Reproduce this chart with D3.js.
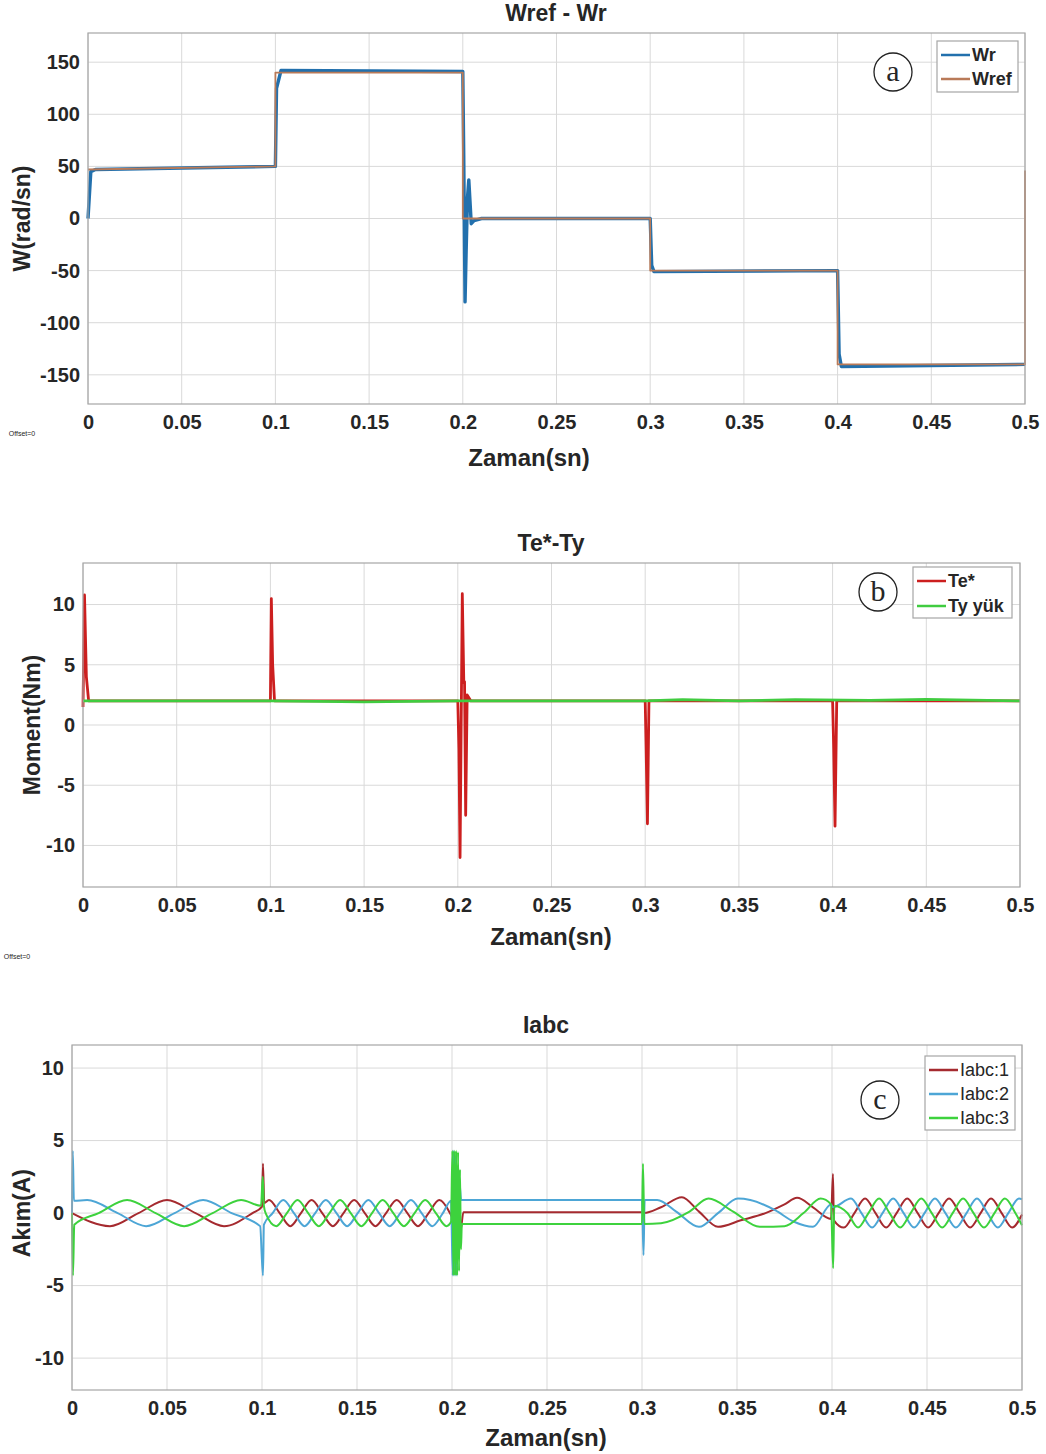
<!DOCTYPE html>
<meta charset="utf-8">
<style>
body { margin: 0; background: #fff; }
text { font-family: "Liberation Sans", Arial, sans-serif; fill: #262626; }
.grid line { stroke: #d9d9d9; stroke-width: 1; }
.frame { fill: none; stroke: #a6a6a6; stroke-width: 1.2; }
</style>
<body>
<script src="https://d3js.org/d3.v7.min.js"></script>
<script>
// shared x ticks (time, s)
const xTicks = [0, 0.05, 0.1, 0.15, 0.2, 0.25, 0.3, 0.35, 0.4, 0.45, 0.5];

// (a) speed, rad/s
const wTicks = [-150, -100, -50, 0, 50, 100, 150];
const wrT = [0, 0.0015, 0.004, 0.1, 0.1006, 0.103, 0.2, 0.2005, 0.2012, 0.2018, 0.2025, 0.2032, 0.2045, 0.206, 0.21, 0.3, 0.3008, 0.302, 0.4, 0.4008, 0.402, 0.5];
const wrV = [0, 45, 47, 50, 125, 142, 141, 60, -80, -30, 20, 37, -5, -2, 0, 0, -45, -51, -50, -130, -142, -140];
const wrefT = [0, 0.1, 0.1, 0.2, 0.2, 0.3, 0.3, 0.4, 0.4, 0.5, 0.5];
const wrefV = [47, 50, 140, 140, 0, 0, -50, -50, -140, -140, 46];

// (b) torque, Nm
const mTicks = [-10, -5, 0, 5, 10];
const teT = [0, 0.0008, 0.0018, 0.003, 0.1, 0.1005, 0.1012, 0.1022, 0.2, 0.2006, 0.2012, 0.2018, 0.2024, 0.2032, 0.2036, 0.2042, 0.205, 0.207, 0.3, 0.3005, 0.3012, 0.302, 0.4, 0.4006, 0.4013, 0.4022, 0.5];
const teV = [1.5, 10.8, 4, 2, 2, 10.5, 5, 2, 2, -2, -11, 0, 10.9, 3.5, 3.6, -7.5, 2.5, 2, 2, -2, -8.2, 2, 2, -2, -8.4, 2, 2];
const tyT = [0, 0.05, 0.1, 0.15, 0.2, 0.25, 0.3, 0.32, 0.35, 0.38, 0.42, 0.45, 0.5];
const tyV = [2, 2, 2, 1.92, 2, 2, 2, 2.1, 2, 2.1, 2.05, 2.12, 2];

// (c) phase currents, A
const aTicks = [-10, -5, 0, 5, 10];
const ia1T = [0, 0.02, 0.035, 0.05, 0.065, 0.08, 0.095, 0.1, 0.1005, 0.1012, 0.1037, 0.1093, 0.1149, 0.1205, 0.1261, 0.1317, 0.1373, 0.1429, 0.1485, 0.1541, 0.1597, 0.1653, 0.1709, 0.1765, 0.1821, 0.1877, 0.1933, 0.1989, 0.2, 0.2015, 0.203, 0.2045, 0.206, 0.3, 0.301, 0.31, 0.321, 0.33, 0.34, 0.352, 0.365, 0.375, 0.3816, 0.39, 0.3995, 0.4005, 0.401, 0.4063, 0.4118, 0.4174, 0.4229, 0.4285, 0.434, 0.4396, 0.4451, 0.4506, 0.4561, 0.4616, 0.4672, 0.4727, 0.4782, 0.4837, 0.4893, 0.4948, 0.5];
const ia1V = [0, -0.9, 0, 0.9, 0, -0.9, 0, 0.45, 3.4, 0.7, 0.9, 0, -0.9, 0, 0.9, 0, -0.9, 0, 0.9, 0, -0.9, 0, 0.9, 0, -0.9, 0, 0.9, 0, -0.3, -1.5, -0.8, -1.2, 0.05, 0.05, 0, 0.4, 1.1, 0.1, -0.95, -0.5, 0, 0.6, 1.05, 0.4, -0.4, 2.7, -0.5, -1, 0, 1, 0, -1, 0, 1, 0, -1, 0, 1, 0, -1, 0, 1, 0, -1, -0.1];
const ia2T = [0, 0.0004, 0.001, 0.008, 0.024, 0.039, 0.054, 0.069, 0.084, 0.099, 0.1005, 0.101, 0.1056, 0.1112, 0.1168, 0.1224, 0.128, 0.1336, 0.1392, 0.1448, 0.1504, 0.156, 0.1616, 0.1672, 0.1728, 0.1784, 0.184, 0.1896, 0.1952, 0.1995, 0.2004, 0.2009, 0.2014, 0.2019, 0.2024, 0.2029, 0.2034, 0.204, 0.2048, 0.3, 0.3008, 0.3014, 0.308, 0.318, 0.33, 0.34, 0.3505, 0.357, 0.37, 0.38, 0.39, 0.3995, 0.4005, 0.41, 0.4155, 0.4211, 0.4266, 0.4322, 0.4377, 0.4432, 0.4487, 0.4542, 0.4597, 0.4652, 0.4708, 0.4763, 0.4818, 0.4873, 0.4928, 0.4984, 0.5];
const ia2V = [0, 4.3, 0.85, 0.9, 0, -0.9, 0, 0.9, 0, -0.9, -4.3, -0.8, 0, 0.9, 0, -0.9, 0, 0.9, 0, -0.9, 0, 0.9, 0, -0.9, 0, 0.9, 0, -0.9, 0, 0.85, -4.3, 4.3, -4.3, 4.0, -4.3, 3.0, -3.0, 2.0, 0.9, 0.9, -2.9, 0.9, 0.9, 0.1, -0.95, 0, 1.0, 0.9, 0.2, -0.6, -0.95, 0.6, 0.4, 1, 0, -1, 0, 1, 0, -1, 0, 1, 0, -1, 0, 1, 0, -1, 0, 1, 0.95];
const ia3T = [0, 0.0005, 0.0012, 0.014, 0.029, 0.044, 0.059, 0.074, 0.089, 0.0995, 0.1004, 0.101, 0.1019, 0.1075, 0.1131, 0.1187, 0.1243, 0.1299, 0.1355, 0.1411, 0.1467, 0.1523, 0.1579, 0.1635, 0.1691, 0.1747, 0.1803, 0.1859, 0.1915, 0.1971, 0.1995, 0.2002, 0.2007, 0.2012, 0.2017, 0.2022, 0.2027, 0.2032, 0.2037, 0.2042, 0.2047, 0.2052, 0.3, 0.3005, 0.3012, 0.31, 0.325, 0.335, 0.348, 0.362, 0.375, 0.385, 0.394, 0.3995, 0.4006, 0.4012, 0.4081, 0.4137, 0.4192, 0.4248, 0.4303, 0.4359, 0.4414, 0.447, 0.4525, 0.458, 0.4635, 0.469, 0.4745, 0.48, 0.4855, 0.491, 0.4965, 0.5];
const ia3V = [0, -4.3, -0.8, 0, 0.9, 0, -0.9, 0, 0.9, 0.5, 2.5, 0.5, 0, -0.9, 0, 0.9, 0, -0.9, 0, 0.9, 0, -0.9, 0, 0.9, 0, -0.9, 0, 0.9, 0, -0.9, -0.6, 4.3, -4.3, 4.3, -4.3, 4.3, -4.3, 4.2, -4.0, 3.0, -2.5, -0.75, -0.75, 3.4, -0.75, -0.7, 0.1, 1.0, 0.1, -0.95, -0.9, 0, 1.0, 0.6, -3.8, 0.5, 0, -1, 0, 1, 0, -1, 0, 1, 0, -1, 0, 1, 0, -1, 0, 1, 0, -0.84];

const zip = (t, v) => t.map((d, i) => [d, v[i]]);

var svg = d3.select("body").append("svg")
    .attr("width", 1046)
    .attr("height", 1454);

function panel(cfg) {
  var x = d3.scaleLinear().domain([0, 0.5]).range([cfg.left, cfg.right]);
  var y = d3.scaleLinear().domain(cfg.yDomain).range([cfg.bottom, cfg.top]);
  var g = svg.append("g");

  // grid
  var grid = g.append("g").attr("class", "grid");
  grid.selectAll(".gx").data(xTicks).enter().append("line")
      .attr("x1", d => x(d)).attr("x2", d => x(d))
      .attr("y1", cfg.top).attr("y2", cfg.bottom);
  grid.selectAll(".gy").data(cfg.yTicks).enter().append("line")
      .attr("x1", cfg.left).attr("x2", cfg.right)
      .attr("y1", d => y(d)).attr("y2", d => y(d));

  // axes (labels only, box drawn separately)
  var xa = g.append("g").attr("transform", "translate(0," + cfg.bottom + ")")
      .call(d3.axisBottom(x).tickValues(xTicks).tickFormat(d => String(d)).tickSize(0).tickPadding(11));
  var ya = g.append("g").attr("transform", "translate(" + cfg.left + ",0)")
      .call(d3.axisLeft(y).tickValues(cfg.yTicks).tickFormat(d => String(d)).tickSize(0).tickPadding(8));
  [xa, ya].forEach(a => {
    a.select(".domain").remove();
    a.selectAll("text").style("font-size", "20px").style("font-weight", "bold")
        .attr("fill", "#262626").style("font-family", '"Liberation Sans", Arial, sans-serif');
  });

  // series
  var line = d3.line().x(d => x(d[0])).y(d => y(d[1])).curve(cfg.curve || d3.curveLinear);
  cfg.series.forEach(s => {
    g.append("path").datum(s.data)
        .attr("fill", "none").attr("stroke", s.color).attr("stroke-width", s.width)
        .attr("stroke-linejoin", "round").attr("d", line);
  });

  g.append("rect").attr("class", "frame")
      .attr("x", cfg.left).attr("y", cfg.top)
      .attr("width", cfg.right - cfg.left).attr("height", cfg.bottom - cfg.top);

  // titles
  g.append("text").attr("x", cfg.titleX).attr("y", cfg.top - 12)
      .attr("text-anchor", "middle").style("font-size", "23px").style("font-weight", "bold").text(cfg.title);
  g.append("text").attr("x", cfg.xLabelX).attr("y", cfg.bottom + cfg.xLabelDy)
      .attr("text-anchor", "middle").style("font-size", "24px").style("font-weight", "bold").text("Zaman(sn)");
  g.append("text").attr("transform", "translate(" + cfg.yLabelX + "," + y(0) + ") rotate(-90)")
      .attr("text-anchor", "middle").attr("dy", "0.35em")
      .style("font-size", "23px").style("font-weight", "bold").text(cfg.yLabel);

  // legend
  var L = cfg.legend;
  var lg = g.append("g");
  lg.append("rect").attr("x", L.x).attr("y", L.y).attr("width", L.w).attr("height", L.h)
      .attr("fill", "#fff").attr("stroke", "#a6a6a6").attr("stroke-width", 1.2);
  cfg.series.forEach((s, i) => {
    var yy = L.y + 14 + i * L.step;
    lg.append("line").attr("x1", L.x + 4).attr("x2", L.x + 33).attr("y1", yy).attr("y2", yy)
        .attr("stroke", s.color).attr("stroke-width", 2.5);
    lg.append("text").attr("x", L.x + 35).attr("y", yy).attr("dy", "0.35em")
        .style("font-size", L.size).style("font-weight", L.bold ? "bold" : "normal").text(s.name);
  });

  // circled panel letter
  g.append("circle").attr("cx", cfg.tag[0]).attr("cy", cfg.tag[1]).attr("r", 19)
      .attr("fill", "#fff").attr("stroke", "#222").attr("stroke-width", 1.3);
  g.append("text").attr("x", cfg.tag[0]).attr("y", cfg.tag[1]).attr("dy", "0.3em")
      .attr("text-anchor", "middle").style("font-family", '"Liberation Serif", "DejaVu Serif", serif')
      .style("font-size", "30px").attr("fill", "#111").text(cfg.letter);

  if (cfg.offset) {
    g.append("text").attr("x", cfg.offset[0]).attr("y", cfg.offset[1]).attr("text-anchor", "middle")
        .style("font-size", "7px").attr("fill", "#888").text("Offset=0");
  }
}

panel({
  left: 88, right: 1025, top: 33, bottom: 404, yDomain: [-178, 178], yTicks: wTicks,
  title: "Wref - Wr", titleX: 556, xLabelX: 529, xLabelDy: 62, yLabel: "W(rad/sn)", yLabelX: 22,
  series: [
    {name: "Wr", color: "#2270ad", width: 3.4, data: zip(wrT, wrV)},
    {name: "Wref", color: "#b97a58", width: 1.8, data: zip(wrefT, wrefV)}
  ],
  legend: {x: 937, y: 41, w: 81, h: 51, step: 24, size: "18px", bold: true},
  tag: [893, 72], letter: "a", offset: [22, 436]
});

panel({
  left: 83, right: 1020, top: 563, bottom: 887, yDomain: [-13.45, 13.45], yTicks: mTicks,
  title: "Te*-Ty", titleX: 551, xLabelX: 551, xLabelDy: 58, yLabel: "Moment(Nm)", yLabelX: 32,
  series: [
    {name: "Te*", color: "#cc1f1f", width: 2.8, data: zip(teT, teV)},
    {name: "Ty yük", color: "#40cc40", width: 2.8, data: zip(tyT, tyV)}
  ],
  legend: {x: 913, y: 567, w: 99, h: 51, step: 25, size: "18px", bold: true},
  tag: [878, 592], letter: "b", offset: [17, 959]
});

panel({
  left: 72, right: 1022, top: 1045, bottom: 1390, yDomain: [-12.2, 11.59], yTicks: aTicks,
  title: "Iabc", titleX: 546, xLabelX: 546, xLabelDy: 56, yLabel: "Akım(A)", yLabelX: 22,
  curve: d3.curveMonotoneX,
  series: [
    {name: "Iabc:1", color: "#a52a2f", width: 2, data: zip(ia1T, ia1V)},
    {name: "Iabc:2", color: "#4da6d6", width: 2, data: zip(ia2T, ia2V)},
    {name: "Iabc:3", color: "#3dd23d", width: 2, data: zip(ia3T, ia3V)}
  ],
  legend: {x: 925, y: 1056, w: 90, h: 74, step: 24, size: "18px", bold: false},
  tag: [880, 1100], letter: "c"
});
</script>
</body>
